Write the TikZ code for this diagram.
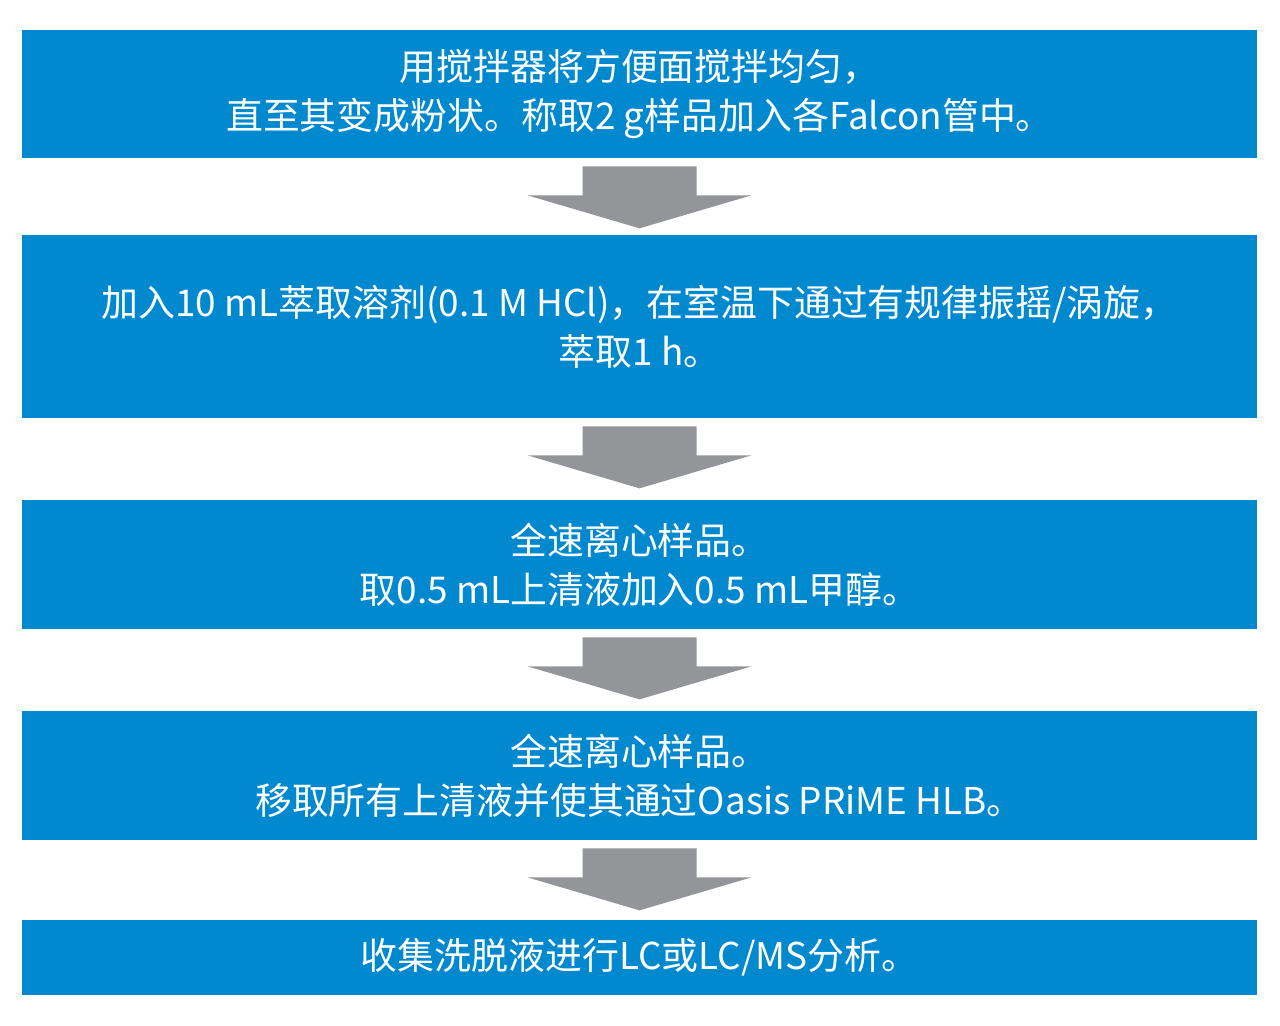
\documentclass[tikz,border=0pt]{standalone}
\usepackage{fontspec}
\setmainfont{Noto Sans CJK SC}
\usepackage{tikz}
\usetikzlibrary{positioning}
\definecolor{stepblue}{HTML}{0089CF}
\definecolor{arrowgray}{HTML}{939598}
\tikzset{
  stepbox/.style={rectangle, fill=stepblue, text=white, minimum width=24.7cm,
    inner sep=0pt, align=center, font=\fontsize{21}{28}\selectfont},
  flowarrow/.style={fill=arrowgray, draw=none}
}
\newcommand{\downarrowat}[1]{%
  \fill[flowarrow, shift={(#1.south)}] (-57,8) -- (57,8) -- (57,37) -- (112,37)
    -- (0,70) -- (-112,37) -- (-57,37) -- cycle;}

\begin{document}
\begin{tikzpicture}[x=0.02cm, y=-0.02cm]
\useasboundingbox (0,0) rectangle (1280,1025);

\node (mix) [stepbox, minimum height=2.56cm] at (639.5,94)
  {用搅拌器将方便面搅拌均匀，\\直至其变成粉状。称取2 g样品加入各Falcon管中。};

\node (extract) [stepbox, minimum height=3.66cm] at (639.5,326.5)
  {加入10 mL萃取溶剂(0.1 M HCl)，在室温下通过有规律振摇/涡旋，\\萃取1 h。};

\node (spin1) [stepbox, minimum height=2.58cm] at (639.5,564.5)
  {全速离心样品。\\取0.5 mL上清液加入0.5 mL甲醇。};

\node (spin2) [stepbox, minimum height=2.58cm] at (639.5,775.5)
  {全速离心样品。\\移取所有上清液并使其通过Oasis PRiME HLB。};

\node (collect) [stepbox, minimum height=1.5cm] at (639.5,957.5)
  {收集洗脱液进行LC或LC/MS分析。};

\foreach \n in {mix,extract,spin1,spin2}
  {\downarrowat{\n}}
\end{tikzpicture}
\end{document}
